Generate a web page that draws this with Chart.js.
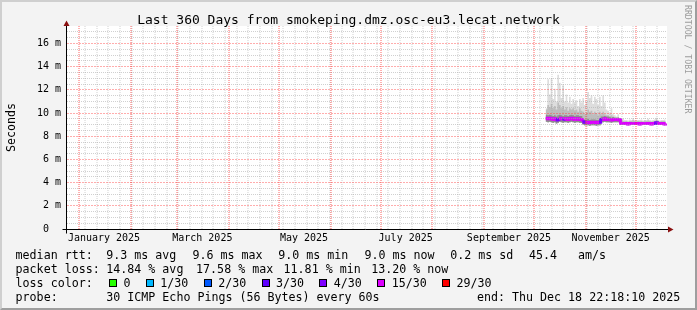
<!DOCTYPE html>
<html>
<head>
<meta charset="utf-8">
<script src="https://cdn.jsdelivr.net/npm/chart.js@4.4.1/dist/chart.umd.min.js"></script>
<style>
  body { margin: 0; background: #f3f3f3; }
  #wrap { position: relative; width: 697px; height: 310px; background: #f3f3f3; overflow: hidden;
          font-family: 'DejaVu Sans Mono', monospace; color: #000; }
  #chart { position: absolute; left: 0; top: 0; }
  #title { position: absolute; left: 0; top: 12px; width: 697px; text-align: center;
           font-size: 13px; line-height: 15px; white-space: pre; }
  .row { position: absolute; left: 0; width: 697px; height: 14px; font-size: 11.65px; line-height: 14px; white-space: pre; }
  .row > span { position: absolute; top: 0; }
  #lossItems { position: absolute; top: 0; height: 14px; display: flex; align-items: center; }
  #lossItems .box { width: 8px; height: 8px; box-sizing: border-box; border: 1px solid #000; margin-right: 6.5px; }
  #lossItems .txt { margin-right: 15.3px; }
  #side { position: absolute; left: 683px; top: 5px; writing-mode: vertical-rl; font-size: 8.2px; line-height: 10px;
          color: #9c9c9c; white-space: pre; }
  #frame { position: absolute; left: 0; top: 0; width: 697px; height: 310px; box-sizing: border-box;
           border: 2px solid; border-color: #cfcfcf #9e9e9e #9e9e9e #cfcfcf; pointer-events: none; }
</style>
</head>
<body>
<div id="wrap">
  <canvas id="chart" width="697" height="310"></canvas>
  <div id="title">Last 360 Days from smokeping.dmz.osc-eu3.lecat.network</div>
  <div class="row" id="row1" style="top:247.5px"></div>
  <div class="row" id="row2" style="top:261.5px"></div>
  <div class="row" id="row3" style="top:275.5px"></div>
  <div class="row" id="row4" style="top:289.5px"></div>
  <div id="side">RRDTOOL / TOBI OETIKER</div>
  <div id="frame"></div>
</div>
<script>
// x axis is in days since 1 Jan 2025; the graph covers the last 360 days
const xMin = -7.2;
const xMax = 352.8;
const monthStarts = [0, 31, 59, 90, 120, 151, 181, 212, 243, 273, 304, 334];
const monthLabelDays = [15, 74, 135, 196, 258, 319];
const monthLabels = ['January 2025', 'March 2025', 'May 2025', 'July 2025', 'September 2025', 'November 2025'];
const yTicks = [0, 2, 4, 6, 8, 10, 12, 14, 16];

// measurements start on day 280 (early October), one value per day, in ms
const firstDay = 280;
const medianRtt = [
  9.55, 9.5, 9.55, 9.5, 9.45, 9.5, 9.4, 9.45, 9.55, 9.5, 9.45, 9.5, 9.5, 9.45, 9.5, 9.55, 9.5, 9.45, 9.5, 9.5, 9.45, 9.45,
  9.25, 9.2, 9.2, 9.2, 9.15, 9.2, 9.2, 9.2, 9.15, 9.2, 9.2,
  9.45, 9.45, 9.5, 9.45, 9.45, 9.45, 9.4, 9.45, 9.45, 9.45, 9.45, 9.4,
  9.1, 9.1, 9.1, 9.1, 9.05, 9.1, 9.1, 9.1, 9.1, 9.1, 9.1, 9.05, 9.1, 9.1, 9.1, 9.1, 9.1, 9.1, 9.05, 9.1, 9.1, 9.15, 9.1, 9.1, 9.1, 9.1, 9.05, 9.1
];
const smokeMax = [
  10.4, 12.9, 11.6, 13.0, 11.2, 12.1, 11.0, 13.3, 12.6, 11.3, 12.4, 11.0, 11.6, 10.9, 11.4, 10.8, 11.2, 10.9, 11.1, 10.6, 11.2, 10.9,
  11.3, 10.7, 11.0, 11.8, 11.3, 11.5, 10.8, 11.4, 11.2, 10.7, 11.4,
  10.6, 11.5, 10.9, 10.3, 10.2, 10.0, 10.4, 9.9, 9.8, 9.7, 9.9, 9.6,
  9.4, 9.5, 9.4, 9.4, 9.35, 9.45, 9.4, 9.5, 9.4, 9.35, 9.4, 9.4, 9.45, 9.35, 9.4, 9.4, 9.5, 9.4, 9.35, 9.4, 9.45, 9.6, 9.4, 9.35, 9.4, 9.4, 9.45, 9.35
];
const smokeMid = [
  10.3, 10.7, 10.5, 10.8, 10.4, 10.6, 10.3, 10.9, 10.7, 10.4, 10.6, 10.3, 10.5, 10.2, 10.4, 10.3, 10.4, 10.2, 10.3, 10.1, 10.4, 10.2,
  10.1, 9.9, 10.0, 10.3, 10.1, 10.2, 9.9, 10.1, 10.0, 9.8, 10.1,
  9.9, 10.1, 9.9, 9.8, 9.8, 9.7, 9.8, 9.7, 9.65, 9.6, 9.65, 9.55,
  9.3, 9.3, 9.28, 9.3, 9.25, 9.32, 9.3, 9.35, 9.3, 9.28, 9.3, 9.28, 9.32, 9.27, 9.3, 9.3, 9.35, 9.3, 9.26, 9.3, 9.32, 9.45, 9.3, 9.27, 9.3, 9.3, 9.32, 9.26
];
const smokeDark = [
  9.85, 9.8, 9.85, 9.8, 9.75, 9.8, 9.7, 9.8, 9.85, 9.8, 9.75, 9.8, 9.8, 9.75, 9.8, 9.85, 9.8, 9.75, 9.8, 9.8, 9.75, 9.75,
  9.5, 9.45, 9.45, 9.5, 9.4, 9.45, 9.45, 9.45, 9.4, 9.4, 9.45,
  9.7, 9.7, 9.75, 9.7, 9.7, 9.65, 9.6, 9.65, 9.6, 9.6, 9.6, 9.55,
  9.2, 9.2, 9.18, 9.2, 9.15, 9.2, 9.2, 9.22, 9.2, 9.18, 9.2, 9.15, 9.2, 9.18, 9.2, 9.2, 9.22, 9.2, 9.15, 9.2, 9.2, 9.3, 9.2, 9.18, 9.2, 9.2, 9.15, 9.2
];
const smokeMin = [
  9.25, 9.2, 9.25, 9.2, 9.15, 9.2, 9.1, 9.15, 9.25, 9.2, 9.15, 9.2, 9.2, 9.15, 9.2, 9.25, 9.2, 9.15, 9.2, 9.2, 9.15, 9.15,
  9.0, 8.95, 8.95, 8.95, 8.9, 8.95, 8.95, 8.95, 8.9, 8.95, 8.95,
  9.2, 9.2, 9.25, 9.2, 9.2, 9.2, 9.15, 9.2, 9.2, 9.2, 9.2, 9.15,
  9.0, 9.0, 9.0, 9.0, 8.95, 9.0, 9.0, 9.0, 9.0, 9.0, 9.0, 8.95, 9.0, 9.0, 9.0, 9.0, 9.0, 9.0, 8.95, 9.0, 9.0, 9.0, 9.0, 9.0, 9.0, 9.0, 8.95, 9.0
];
// lost pings out of 30, per day
const lossCount = [
  5, 5, 5, 5, 5, 5, 4, 4, 5, 5, 4, 5, 5, 5, 5, 5, 5, 5, 5, 5, 5, 5,
  4, 4, 5, 5, 5, 5, 5, 5, 5, 5, 4,
  4, 5, 5, 5, 5, 5, 5, 5, 5, 5, 5, 5,
  5, 5, 5, 5, 5, 5, 5, 5, 5, 5, 5, 5, 5, 5, 5, 5, 5, 5, 5, 5, 4, 4, 5, 5, 5, 5, 5, 5
];

const lossLabels = ['0', '1/30', '2/30', '3/30', '4/30', '15/30', '29/30'];
const lossLimits = [0, 1, 2, 3, 4, 15, 29];
const lossColors = ['#26ff00', '#00b8ff', '#0059ff', '#5e00ff', '#7e00ff', '#dd00ff', '#ff0000'];

const rttLegend = ['median rtt:', '9.3 ms avg', '9.6 ms max', '9.0 ms min', '9.0 ms now', '0.2 ms sd', '45.4   am/s'];
const lossLegend = ['packet loss:', '14.84 % avg', '17.58 % max', '11.81 % min', '13.20 % now'];
const probeLegend = ['probe:', '30 ICMP Echo Pings (56 Bytes) every 60s', 'end: Thu Dec 18 22:18:10 2025'];

// legend layout (pixel columns of each item)
const rttX = [15.6, 106.3, 192.5, 278.3, 364.5, 450.3, 529];
const lossX = [15.6, 106.3, 196.1, 283.6, 371.2];
const probeX = [15.6, 106.3, 477];

function fillRow(id, texts, xs) {
  const row = document.getElementById(id);
  texts.forEach((t, i) => {
    const s = document.createElement('span');
    s.textContent = t;
    s.style.left = xs[i] + 'px';
    row.appendChild(s);
  });
}
fillRow('row1', rttLegend, rttX);
fillRow('row2', lossLegend, lossX);
fillRow('row4', probeLegend, probeX);

// loss colour legend
const row3 = document.getElementById('row3');
const lossTitle = document.createElement('span');
lossTitle.textContent = 'loss color:';
lossTitle.style.left = '15.6px';
row3.appendChild(lossTitle);
const lossItems = document.createElement('div');
lossItems.id = 'lossItems';
lossItems.style.left = '109px';
lossLabels.forEach((lbl, i) => {
  const b = document.createElement('span');
  b.className = 'box';
  b.style.background = lossColors[i];
  const t = document.createElement('span');
  t.className = 'txt';
  t.textContent = lbl;
  lossItems.appendChild(b);
  lossItems.appendChild(t);
});
row3.appendChild(lossItems);

const toPoints = arr => arr.map((v, i) => ({ x: firstDay + i, y: v }));
const lossColor = n => lossColors[lossLimits.findIndex(l => n <= l)];

const axisFont = { family: 'DejaVu Sans Mono', size: 10 };

// white plot area
const plotBackground = {
  id: 'plotBackground',
  beforeDraw(chart) {
    const { ctx, chartArea: a } = chart;
    ctx.save();
    ctx.fillStyle = '#ffffff';
    ctx.fillRect(a.left, a.top, a.right - a.left, a.bottom - a.top);
    ctx.restore();
  }
};

// rrdtool style dotted grid, axes and arrows
const rrdGrid = {
  id: 'rrdGrid',
  afterDatasetsDraw(chart) {
    const { ctx, chartArea: a, scales: { x, y } } = chart;
    const top = Math.ceil(a.top), bottom = Math.floor(a.bottom);
    const left = Math.ceil(a.left), right = Math.floor(a.right);
    ctx.save();
    ctx.lineWidth = 1;
    const hline = (v, color, dash) => {
      const py = Math.floor(y.getPixelForValue(v)) + 0.5;
      ctx.setLineDash(dash);
      ctx.strokeStyle = color;
      ctx.beginPath(); ctx.moveTo(left, py); ctx.lineTo(right, py); ctx.stroke();
    };
    const vline = (v, color) => {
      const px = Math.round(x.getPixelForValue(v));
      ctx.setLineDash([1, 1]);
      ctx.strokeStyle = color;
      ctx.beginPath(); ctx.moveTo(px, bottom); ctx.lineTo(px, top); ctx.stroke();
    };
    for (let v = 0.5; v <= 17; v += 0.5) {
      if (v % 2 !== 0) hline(v, 'rgba(170,170,170,0.55)', [1, 1]);
    }
    for (let d = 3.6; d < xMax; d += 7) {
      if (d > xMin) vline(d, 'rgba(150,150,150,0.45)');
    }
    yTicks.slice(1).forEach(v => hline(v, 'rgba(255,60,60,0.42)', [2, 1]));
    monthStarts.forEach(d => vline(d, 'rgba(255,32,32,0.7)'));

    ctx.setLineDash([]);
    ctx.strokeStyle = '#000';
    const ax = left - 0.5;
    const ay = bottom + 0.5;
    ctx.beginPath();
    ctx.moveTo(ax, ay + 4); ctx.lineTo(ax, top - 4);
    ctx.moveTo(ax - 4, ay); ctx.lineTo(right + 2, ay);
    ctx.stroke();
    ctx.fillStyle = '#8a1010';
    ctx.beginPath();
    ctx.moveTo(ax - 3, top); ctx.lineTo(ax + 3, top); ctx.lineTo(ax, top - 5.5); ctx.closePath();
    ctx.fill();
    ctx.beginPath();
    ctx.moveTo(right + 1, ay - 3); ctx.lineTo(right + 1, ay + 3); ctx.lineTo(right + 6.5, ay); ctx.closePath();
    ctx.fill();
    ctx.restore();
  }
};

const smokeFill = (data, color, order) => ({
  data: toPoints(data),
  borderColor: 'rgba(0,0,0,0)',
  borderWidth: 0,
  backgroundColor: color,
  fill: 4,
  stepped: true,
  pointRadius: 0,
  order: order
});

new Chart(document.getElementById('chart').getContext('2d'), {
  type: 'line',
  data: {
    datasets: [
      {
        label: 'median rtt',
        data: toPoints(medianRtt),
        borderWidth: 3,
        borderColor: '#dd00ff',
        segment: { borderColor: c => lossColor(lossCount[c.p0DataIndex]) },
        stepped: true,
        pointRadius: 0,
        fill: false,
        order: 0
      },
      smokeFill(smokeDark, '#8e8e8e', 1),
      smokeFill(smokeMid, '#bdbdbd', 2),
      smokeFill(smokeMax, '#dddddd', 3),
      {
        data: toPoints(smokeMin),
        borderColor: 'rgba(0,0,0,0)',
        borderWidth: 0,
        pointRadius: 0,
        fill: false,
        stepped: true,
        order: 4
      }
    ]
  },
  options: {
    responsive: false,
    animation: false,
    devicePixelRatio: 1,
    layout: { padding: { top: 26, right: 30, left: 0, bottom: 0 } },
    plugins: { legend: { display: false }, tooltip: { enabled: false }, title: { display: false } },
    scales: {
      x: {
        type: 'linear',
        min: xMin,
        max: xMax,
        grid: { display: false, drawTicks: false },
        border: { display: false },
        afterBuildTicks: s => { s.ticks = monthLabelDays.map(v => ({ value: v })); },
        ticks: {
          autoSkip: false,
          maxRotation: 0,
          padding: 3,
          color: '#000',
          font: axisFont,
          callback: v => monthLabels[monthLabelDays.indexOf(v)]
        },
        afterFit: s => { s.height = 81; s.paddingLeft = 0; s.paddingRight = 0; }
      },
      y: {
        min: 0,
        max: 17.5,
        grid: { display: false, drawTicks: false },
        border: { display: false },
        afterBuildTicks: s => { s.ticks = yTicks.map(v => ({ value: v })); },
        ticks: {
          padding: 6,
          color: '#000',
          font: axisFont,
          callback: v => (v === 0 ? '0  ' : v + ' m')
        },
        title: {
          display: true,
          text: 'Seconds',
          color: '#000',
          font: { family: 'DejaVu Sans Mono', size: 11.65 },
          padding: { top: 5, bottom: 0 }
        },
        afterFit: s => { s.width = 67; s.paddingTop = 0; s.paddingBottom = 0; }
      }
    }
  },
  plugins: [plotBackground, rrdGrid]
});
</script>
</body>
</html>
